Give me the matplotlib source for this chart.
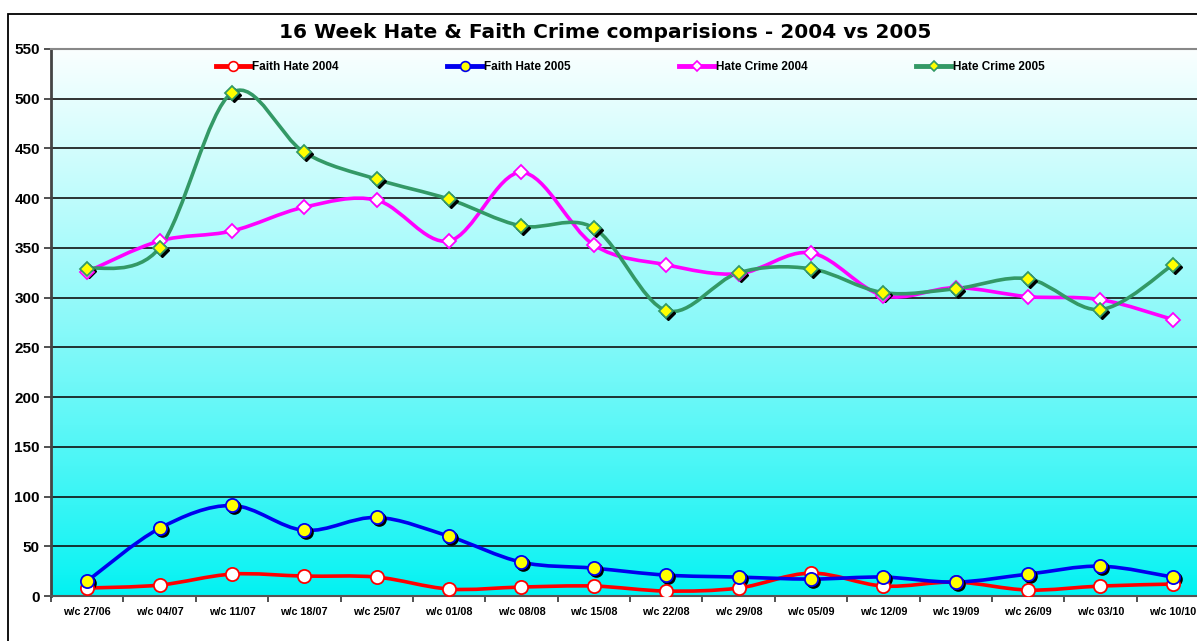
"""
16 week hate & faith crime comparison, 2004 vs 2005 (Excel style smoothed lines).
"""
import numpy as np
import matplotlib
matplotlib.use("Agg")
import matplotlib.pyplot as plt
import matplotlib.transforms as mtransforms
from matplotlib.path import Path
from matplotlib.patches import PathPatch, Rectangle
from matplotlib.lines import Line2D

plt.rcParams['font.family'] = ['Liberation Sans', 'DejaVu Sans']

weeks = ['w/c 27/06', 'w/c 04/07', 'w/c 11/07', 'w/c 18/07', 'w/c 25/07', 'w/c 01/08',
         'w/c 08/08', 'w/c 15/08', 'w/c 22/08', 'w/c 29/08', 'w/c 05/09', 'w/c 12/09',
         'w/c 19/09', 'w/c 26/09', 'w/c 03/10', 'w/c 10/10']

faith_2004 = [8, 11, 22, 20, 19, 7, 9, 10, 5, 8, 23, 10, 14, 6, 10, 12]
faith_2005 = [15, 68, 91, 66, 79, 60, 34, 28, 21, 19, 17, 19, 14, 22, 30, 19]
hate_2004 = [326, 357, 367, 391, 398, 357, 426, 353, 333, 324, 345, 302, 310, 301, 298, 278]
hate_2005 = [329, 350, 506, 446, 419, 399, 372, 370, 287, 325, 329, 305, 309, 319, 288, 333]


def smooth_path(xs, ys):
    # catmull-rom -> cubic bezier, roughly what excel's "smoothed line" does
    p = np.column_stack([xs, ys]).astype(float)
    n = len(p)
    verts = [p[0]]
    codes = [Path.MOVETO]
    for i in range(n - 1):
        p0 = p[i - 1] if i > 0 else p[i]
        p3 = p[i + 2] if i + 2 < n else p[i + 1]
        c1 = p[i] + (p[i + 1] - p0) / 6.0
        c2 = p[i + 1] - (p3 - p[i]) / 6.0
        verts += [c1, c2, p[i + 1]]
        codes += [Path.CURVE4] * 3
    return Path(verts, codes)


W, H = 1197, 641
fig = plt.figure(figsize=(W / 100, H / 100), dpi=100)
fig.patch.set_facecolor('white')

ax_left, ax_right, ax_top, ax_bot = 51, 1209, 49, 596
ax = fig.add_axes([ax_left / W, (H - ax_bot) / H, (ax_right - ax_left) / W, (ax_bot - ax_top) / H])

x = np.arange(len(weeks))
xlo, xhi = -0.5, len(weeks) - 0.5

# background gradient: cyan at the bottom fading to white at the top
t = np.linspace(0, 1, 256).reshape(-1, 1, 1)   # 0 = bottom, 1 = top
bot = np.array([0.0, 0.95, 0.95])
top = np.array([0.98, 1.0, 1.0])
img = bot + (top - bot) * t ** 0.85
ax.imshow(img, extent=(xlo, xhi, 0, 550), origin='lower', aspect='auto', zorder=0)
ax.set_xlim(xlo, xhi)
ax.set_ylim(0, 550)

for v in range(50, 550, 50):
    ax.axhline(v, color='#111111', lw=1.2, zorder=1)

series = [
    ('Faith Hate 2004', faith_2004, 'red', 'o', 'white', 'red', False),
    ('Faith Hate 2005', faith_2005, '#0000ee', 'o', '#ffff00', '#0000ee', True),
    ('Hate Crime 2004', hate_2004, '#ff00ff', 'D', 'white', '#ff00ff', False),
    ('Hate Crime 2005', hate_2005, '#339966', 'D', '#ffff00', '#339966', True),
]

shadow = mtransforms.offset_copy(ax.transData, fig=fig, x=2, y=-2, units='dots')
handles = []
for name, vals, col, mk, mfc, mec, shade in series:
    ax.add_patch(PathPatch(smooth_path(x, vals), facecolor='none', edgecolor=col,
                           lw=2.6, zorder=3, capstyle='round', joinstyle='round'))
    ms = 9.5 if mk == 'o' else 7.5
    if shade:
        ax.plot(x, vals, ls='none', marker=mk, ms=ms, mfc='black', mec='black',
                transform=shadow, zorder=4)
    ax.plot(x, vals, ls='none', marker=mk, ms=ms, mfc=mfc, mec=mec, mew=1.3, zorder=5)
    handles.append(Line2D([], [], color=col, lw=3.5, marker=mk, ms=ms - 2.5, mfc=mfc,
                          mec=mec, mew=1.2, label=name))

leg = ax.legend(handles=handles, loc='center', bbox_to_anchor=(0.5, 0.967), ncol=4,
                frameon=False, handlelength=3.0, handletextpad=0.1,
                columnspacing=9.2, prop={'weight': 'bold', 'size': 8.5})

ax.set_yticks(range(0, 551, 50))
ax.set_yticklabels([str(v) for v in range(0, 551, 50)], fontsize=11, fontweight='bold')
ax.set_xticks(x)
ax.set_xticklabels(weeks, fontsize=7.8, fontweight='bold')
ax.set_xticks(np.arange(xlo, len(weeks), 1.0), minor=True)
ax.tick_params(axis='x', which='major', length=0, pad=8)
ax.tick_params(axis='x', which='minor', length=4, width=1.2, color='#333333', direction='out')
ax.tick_params(axis='y', length=5, width=1.2, color='#333333', pad=3)

ax.spines['right'].set_visible(False)
ax.spines['left'].set_color('#444444')
ax.spines['left'].set_linewidth(2)
ax.spines['bottom'].set_color('#555555')
ax.spines['bottom'].set_linewidth(1.5)
ax.spines['top'].set_color('#888888')
ax.spines['top'].set_linewidth(1.5)

fig.text(605 / W, 1 - 32 / H, '16 Week Hate & Faith Crime comparisions - 2004 vs 2005',
         ha='center', va='center', fontsize=14.5, fontweight='bold', family='DejaVu Sans')

fig.patches.append(Rectangle((8 / W, -0.1), 1.2, 1 - 14 / H + 0.1, transform=fig.transFigure,
                             fill=False, edgecolor='black', lw=1.3))

fig.savefig('out.png', dpi=100)
